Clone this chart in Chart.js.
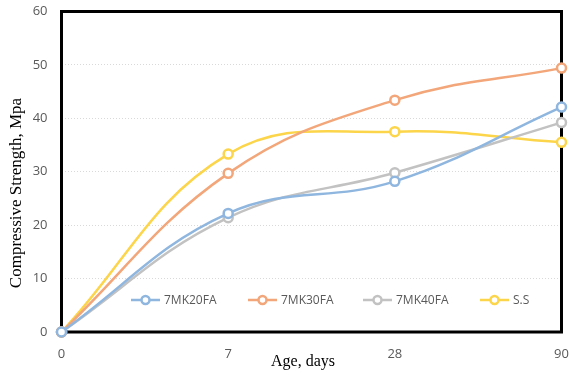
<!DOCTYPE html>
<html>
<head>
<meta charset="utf-8">
<script src="https://cdn.jsdelivr.net/npm/chart.js@4.4.1/dist/chart.umd.min.js"></script>
<style>
  html, body { margin: 0; padding: 0; background: #fff; }
  #wrap { width: 569px; height: 375px; }
</style>
</head>
<body>
<div id="wrap"><canvas id="c" width="569" height="375"></canvas></div>
<script>
// Curing age (days) and compressive strength (MPa) per mix
const ages = ['0', '7', '28', '90'];
const mk20fa = [0, 22.2, 28.2, 42.1];
const mk30fa = [0, 29.7, 43.4, 49.4];
const mk40fa = [0, 21.4, 29.8, 39.2];
const ss = [0, 33.3, 37.5, 35.5];
const seriesNames = ['7MK20FA', '7MK30FA', '7MK40FA', 'S.S'];
const seriesColors = ['#8fb6df', '#f2a679', '#c2c2c2', '#fcd54a'];
const yTicks = { min: 0, max: 60, step: 10 };
const xTitle = 'Age, days';
const yTitle = 'Compressive Strength, Mpa';

const tickColor = '#595959';
const sans = "'Open Sans', 'Liberation Sans', sans-serif";
const serif = "'Liberation Serif', 'DejaVu Serif', serif";

function series(label, data, color) {
  return {
    label, data,
    borderColor: color,
    backgroundColor: color,
    borderWidth: 2.5,
    tension: 0.4,
    pointRadius: 4.5,
    pointHoverRadius: 4.5,
    pointBorderWidth: 2.5,
    pointBorderColor: color,
    pointBackgroundColor: '#ffffff',
    clip: false
  };
}

// Thick black frame around the plot area
const framePlugin = {
  id: 'frame',
  beforeDatasetsDraw(chart) {
    const a = chart.chartArea, ctx = chart.ctx;
    ctx.save();
    ctx.strokeStyle = '#000';
    ctx.lineWidth = 3;
    ctx.strokeRect(a.left, a.top, a.right - a.left, a.bottom - a.top);
    ctx.restore();
  }
};

// Axis titles in a serif face
const axisTitles = {
  id: 'axisTitles',
  afterDraw(chart) {
    const ctx = chart.ctx;
    ctx.save();
    ctx.fillStyle = '#000';
    ctx.textAlign = 'center';
    ctx.textBaseline = 'middle';
    ctx.font = '16px ' + serif;
    ctx.fillText(xTitle, 303, 362);
    ctx.translate(17, 193);
    ctx.rotate(-Math.PI / 2);
    ctx.font = '17px ' + serif;
    ctx.fillText(yTitle, 0, 0);
    ctx.restore();
  }
};

// Legend drawn inside the plot, near the bottom edge
const insideLegend = {
  id: 'insideLegend',
  afterDatasetsDraw(chart) {
    const ctx = chart.ctx;
    const y = 300;
    const starts = [131, 248, 363, 480];
    ctx.save();
    ctx.font = '12px ' + sans;
    ctx.textBaseline = 'middle';
    chart.data.datasets.forEach((ds, i) => {
      const x = starts[i];
      ctx.strokeStyle = ds.borderColor;
      ctx.lineWidth = 2.5;
      ctx.beginPath();
      ctx.moveTo(x, y);
      ctx.lineTo(x + 29, y);
      ctx.stroke();
      ctx.beginPath();
      ctx.arc(x + 14.5, y, 4, 0, Math.PI * 2);
      ctx.fillStyle = '#fff';
      ctx.fill();
      ctx.lineWidth = 2.5;
      ctx.stroke();
      ctx.fillStyle = tickColor;
      ctx.textAlign = 'left';
      ctx.fillText(ds.label, x + 33, y + 0.5);
    });
    ctx.restore();
  }
};

new Chart(document.getElementById('c'), {
  type: 'line',
  data: {
    labels: ages,
    datasets: [
      series(seriesNames[0], mk20fa, seriesColors[0]),
      series(seriesNames[1], mk30fa, seriesColors[1]),
      series(seriesNames[2], mk40fa, seriesColors[2]),
      series(seriesNames[3], ss, seriesColors[3])
    ]
  },
  options: {
    responsive: false,
    animation: false,
    devicePixelRatio: 1,
    layout: { padding: { top: 11.5, right: 7.5, left: 0, bottom: 0 } },
    plugins: {
      legend: { display: false },
      tooltip: { enabled: false }
    },
    scales: {
      x: {
        type: 'category',
        offset: false,
        grid: { display: false, drawTicks: false },
        border: { display: false },
        ticks: { color: tickColor, font: { family: sans, size: 13 }, padding: 14, maxRotation: 0 },
        afterFit(s) { s.height = 43; s.paddingLeft = 0; s.paddingRight = 0; }
      },
      y: {
        min: yTicks.min, max: yTicks.max,
        grid: { color: '#d9d9d9', lineWidth: 1, drawTicks: false },
        border: { display: false, dash: [1, 2] },
        ticks: { stepSize: yTicks.step, color: tickColor, font: { family: sans, size: 13 }, padding: 14 },
        afterFit(s) { s.width = 61.5; s.paddingTop = 0; s.paddingBottom = 0; }
      }
    }
  },
  plugins: [framePlugin, insideLegend, axisTitles]
});
</script>
</body>
</html>
